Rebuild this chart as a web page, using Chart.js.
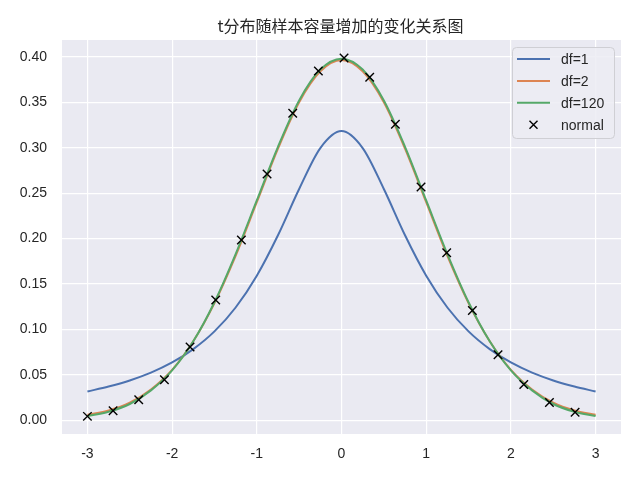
<!DOCTYPE html>
<html>
<head>
<meta charset="utf-8">
<script src="https://cdn.jsdelivr.net/npm/chart.js@4/dist/chart.umd.min.js"></script>
<style>
  html, body { margin: 0; padding: 0; background: #ffffff; }
  #wrap { width: 640px; height: 480px; }
</style>
</head>
<body>
<div id="wrap"><canvas id="chart" width="640" height="480"></canvas></div>
<script>
  const chartTitle = "t分布随样本容量增加的变化关系图";

  // x positions of the curves
  const xLine = [-3, -2.75, -2.5, -2.25, -2, -1.75, -1.5, -1.25, -1, -0.75, -0.5, -0.25, 0,
    0.25, 0.5, 0.75, 1, 1.25, 1.5, 1.75, 2, 2.25, 2.5, 2.75, 3];

  const df1 = [0.0318, 0.0372, 0.0439, 0.0525, 0.0637, 0.0784, 0.0979, 0.1242, 0.1592, 0.2037, 0.2546, 0.2996, 0.3183,
    0.2996, 0.2546, 0.2037, 0.1592, 0.1242, 0.0979, 0.0784, 0.0637, 0.0525, 0.0439, 0.0372, 0.0318];

  const df2 = [0.0062, 0.0110, 0.0195, 0.0340, 0.0555, 0.0870, 0.1290, 0.1810, 0.2400, 0.2990, 0.3500, 0.3840, 0.3965,
    0.3840, 0.3500, 0.2990, 0.2400, 0.1810, 0.1290, 0.0870, 0.0555, 0.0340, 0.0195, 0.0110, 0.0062];

  const df120 = [0.0048, 0.0095, 0.0180, 0.0330, 0.0550, 0.0870, 0.1300, 0.1830, 0.2420, 0.3010, 0.3520, 0.3860, 0.3980,
    0.3860, 0.3520, 0.3010, 0.2420, 0.1830, 0.1300, 0.0870, 0.0550, 0.0330, 0.0180, 0.0095, 0.0048];

  const xNormal = [-3, -2.697, -2.394, -2.091, -1.788, -1.485, -1.182, -0.879, -0.576, -0.273,
    0.030, 0.333, 0.636, 0.939, 1.242, 1.545, 1.848, 2.152, 2.455, 2.758];
  const yNormal = [0.0044, 0.0105, 0.0227, 0.0448, 0.0806, 0.1325, 0.1984, 0.2711, 0.3380, 0.3844,
    0.3987, 0.3774, 0.3258, 0.2567, 0.1844, 0.1209, 0.0723, 0.0394, 0.0196, 0.0089];

  const xTicks = [-3, -2, -1, 0, 1, 2, 3];
  const yTicks = [0, 0.05, 0.1, 0.15, 0.2, 0.25, 0.3, 0.35, 0.4];

  const seriesLabels = ["df=1", "df=2", "df=120", "normal"];
  const seriesColors = ["#4C72B0", "#DD8452", "#55A868", "#000000"];

  function toPoints(xs, ys) {
    return xs.map((x, i) => ({ x: x, y: ys[i] }));
  }

  // later series should sit on top, like matplotlib
  function lineDataset(label, ys, color, order) {
    return {
      label: label,
      data: toPoints(xLine, ys),
      showLine: true,
      order: order,
      borderColor: color,
      backgroundColor: color,
      borderWidth: 2,
      pointRadius: 0,
      cubicInterpolationMode: "monotone",
      fill: false
    };
  }

  const plotBackground = {
    id: "plotBackground",
    beforeDraw(chart) {
      const { ctx, chartArea } = chart;
      ctx.save();
      ctx.fillStyle = "#EAEAF2";
      ctx.fillRect(chartArea.left, chartArea.top, chartArea.right - chartArea.left, chartArea.bottom - chartArea.top);
      ctx.restore();
    }
  };

  const titleAndLegend = {
    id: "titleAndLegend",
    afterDraw(chart) {
      const { ctx, chartArea } = chart;
      ctx.save();

      // title
      ctx.fillStyle = "#262626";
      ctx.font = "16px 'Noto Sans CJK SC', sans-serif";
      ctx.textAlign = "center";
      ctx.textBaseline = "middle";
      ctx.fillText(chartTitle, (chartArea.left + chartArea.right) / 2 - 1, 26);

      // legend box, upper right inside the plot
      const boxW = 102;
      const boxH = 91;
      const bx = chartArea.right - 7 - boxW;
      const by = chartArea.top + 7;
      ctx.beginPath();
      ctx.roundRect(bx + 0.5, by + 0.5, boxW, boxH, 4);
      ctx.fillStyle = "rgba(236,236,243,0.85)";
      ctx.fill();
      ctx.strokeStyle = "#CFCFD4";
      ctx.lineWidth = 1;
      ctx.stroke();

      ctx.font = "14px 'Liberation Sans', Arial, sans-serif";
      ctx.textAlign = "left";
      ctx.textBaseline = "middle";
      chart.data.datasets.forEach((ds, i) => {
        const cy = by + 12 + i * 21.9;
        const lx = bx + 5;
        if (ds.showLine) {
          ctx.strokeStyle = ds.borderColor;
          ctx.lineWidth = 2;
          ctx.beginPath();
          ctx.moveTo(lx, cy);
          ctx.lineTo(lx + 33, cy);
          ctx.stroke();
        } else {
          const mx = lx + 16.5;
          ctx.strokeStyle = "#000000";
          ctx.lineWidth = 1.4;
          ctx.beginPath();
          ctx.moveTo(mx - 4, cy - 4);
          ctx.lineTo(mx + 4, cy + 4);
          ctx.moveTo(mx - 4, cy + 4);
          ctx.lineTo(mx + 4, cy - 4);
          ctx.stroke();
        }
        ctx.fillStyle = "#262626";
        ctx.fillText(ds.label, bx + 49, cy + 1);
      });
      ctx.restore();
    }
  };

  new Chart(document.getElementById("chart"), {
    type: "scatter",
    data: {
      datasets: [
        lineDataset(seriesLabels[0], df1, seriesColors[0], 3),
        lineDataset(seriesLabels[1], df2, seriesColors[1], 2),
        lineDataset(seriesLabels[2], df120, seriesColors[2], 1),
        {
          label: seriesLabels[3],
          data: toPoints(xNormal, yNormal),
          showLine: false,
          order: 0,
          pointStyle: "crossRot",
          pointRadius: 6,
          borderColor: seriesColors[3],
          backgroundColor: seriesColors[3],
          borderWidth: 1.4
        }
      ]
    },
    options: {
      responsive: false,
      animation: false,
      events: [],
      layout: {
        padding: { left: 0, right: 19, top: 40, bottom: 0 }
      },
      plugins: {
        legend: { display: false },
        title: { display: false },
        tooltip: { enabled: false }
      },
      scales: {
        x: {
          type: "linear",
          min: -3.3,
          max: 3.3,
          afterBuildTicks(scale) {
            scale.ticks = xTicks.map((v) => ({ value: v }));
          },
          afterFit(scale) {
            scale.height = 46;
          },
          border: { display: false },
          grid: { color: "#ffffff", lineWidth: 1.2, drawTicks: false },
          ticks: {
            padding: 12,
            color: "#262626",
            font: { family: "'Liberation Sans', Arial, sans-serif", size: 14 },
            callback: (v) => String(v),
            maxRotation: 0
          }
        },
        y: {
          type: "linear",
          min: -0.015,
          max: 0.4185,
          afterBuildTicks(scale) {
            scale.ticks = yTicks.map((v) => ({ value: v }));
          },
          afterFit(scale) {
            scale.width = 62;
          },
          border: { display: false },
          grid: { color: "#ffffff", lineWidth: 1.2, drawTicks: false },
          ticks: {
            padding: 15,
            color: "#262626",
            font: { family: "'Liberation Sans', Arial, sans-serif", size: 14 },
            callback: (v) => v.toFixed(2)
          }
        }
      }
    },
    plugins: [plotBackground, titleAndLegend]
  });
</script>
</body>
</html>
